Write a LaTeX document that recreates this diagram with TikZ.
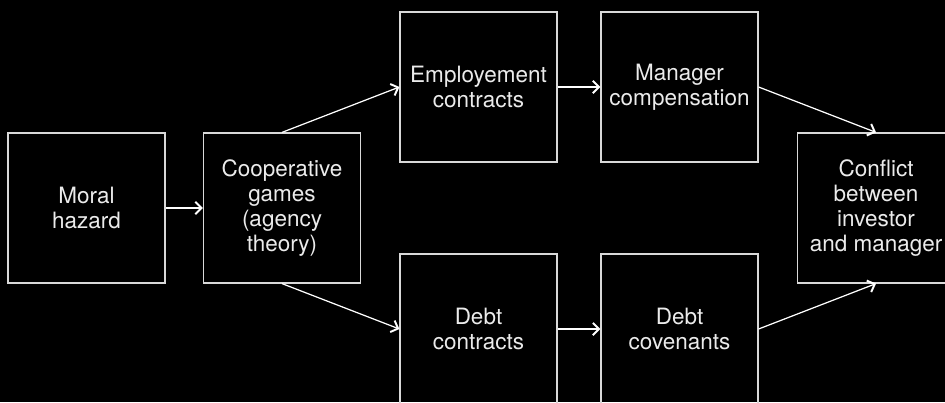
\documentclass[tikz,border=0pt]{standalone}
\usepackage{fontspec}
\setmainfont{TeX Gyre Heros}
\usetikzlibrary{arrows.meta}

\begin{document}
\begin{tikzpicture}
  [x=0.02cm,y=-0.02cm,
   box/.style={draw=white!85!black,line width=0.7pt,text=white!92!black,minimum width=3.14cm,
     minimum height=3cm,align=center,font=\fontsize{12.8}{14.3}\selectfont,inner sep=0pt},
   link/.style={white,line width=0.7pt,-{Straight Barb[length=3.5pt,width=7pt,line width=1.1pt]}}]
  \useasboundingbox (0,0) rectangle (945,402);
  \fill [black] (0,0) rectangle (945,402);
  \clip (0,0) rectangle (945,402);

  \node [box] (moral) at (86.5,208) {Moral\\hazard};
  \node [box] (coop) at (282,208) {Cooperative\\games\\(agency\\theory)};
  \node [box] (emp) at (478.5,87) {Employement\\contracts};
  \node [box] (mgr) at (679.5,87) {Manager\\compensation};
  \node [box] (debt) at (478.5,329) {Debt\\contracts};
  \node [box] (cov) at (679.5,329) {Debt\\covenants};
  \node [box] (conf) at (876,208) {Conflict\\between\\investor\\and manager};

  \foreach \from/\to in {moral/coop,coop.north/emp.west,emp/mgr,mgr.east/conf.north,coop.south/debt.west,debt/cov,cov.east/conf.south}
    \draw [link] (\from) -- (\to);

\end{tikzpicture}
\end{document}
